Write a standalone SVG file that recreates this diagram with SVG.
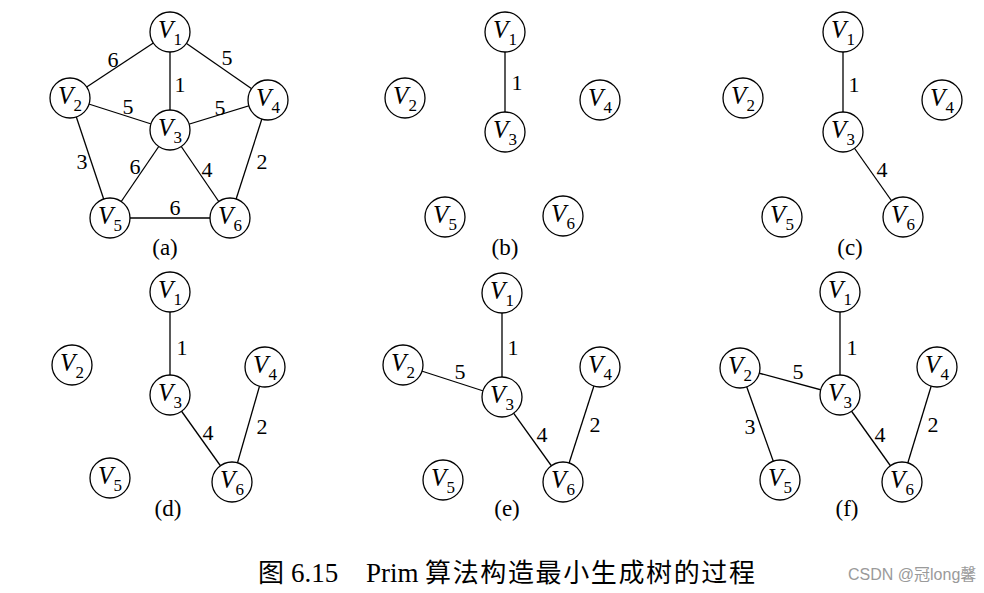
<svg xmlns="http://www.w3.org/2000/svg" width="984" height="593" viewBox="0 0 984 593">
<style>
.n circle{fill:#fff;stroke:#000;stroke-width:1.3}
.n text{font-family:"Liberation Serif","Times New Roman",serif;font-size:25px;font-style:italic;text-anchor:middle;fill:#000}
.n tspan.s{font-style:normal;font-size:17px}
#edges line{stroke:#000;stroke-width:1.3}
.w{font-family:"Liberation Serif","Times New Roman",serif;font-size:22px;text-anchor:middle;fill:#000}
.cap{font-family:"Liberation Serif","Times New Roman",serif;font-size:23px;text-anchor:middle;fill:#000}
.title{font-family:"Liberation Serif","Noto Sans CJK SC",serif;font-size:27px;fill:#000}
.title2{font-family:"Noto Sans CJK SC",serif;font-size:26px;fill:#000}
.wm{font-family:"Liberation Sans","Noto Sans CJK SC",sans-serif;font-size:16px;fill:#9a9a9a}
</style>
<rect width="984" height="593" fill="#fff"/>
<g id="edges">
<!-- (a) -->
<line x1="170" y1="32" x2="70" y2="98"/>
<line x1="170" y1="32" x2="268" y2="100"/>
<line x1="170" y1="32" x2="170" y2="130"/>
<line x1="70" y1="98" x2="170" y2="130"/>
<line x1="268" y1="100" x2="170" y2="130"/>
<line x1="70" y1="98" x2="110" y2="218"/>
<line x1="170" y1="130" x2="110" y2="218"/>
<line x1="170" y1="130" x2="230" y2="218"/>
<line x1="268" y1="100" x2="230" y2="218"/>
<line x1="110" y1="218" x2="230" y2="218"/>
<!-- (b) -->
<line x1="505" y1="32" x2="505" y2="132"/>
<!-- (c) -->
<line x1="843" y1="32" x2="843" y2="132"/>
<line x1="843" y1="132" x2="903" y2="217"/>
<!-- (d) -->
<line x1="170" y1="292" x2="170" y2="395"/>
<line x1="170" y1="395" x2="232" y2="482"/>
<line x1="265" y1="367" x2="232" y2="482"/>
<!-- (e) -->
<line x1="502" y1="293" x2="502" y2="397"/>
<line x1="403" y1="365" x2="502" y2="397"/>
<line x1="502" y1="397" x2="563" y2="482"/>
<line x1="600" y1="367" x2="563" y2="482"/>
<!-- (f) -->
<line x1="840" y1="292" x2="840" y2="395"/>
<line x1="740" y1="368" x2="840" y2="395"/>
<line x1="740" y1="368" x2="780" y2="480"/>
<line x1="840" y1="395" x2="902" y2="482"/>
<line x1="937" y1="367" x2="902" y2="482"/>
</g>
<g id="weights">
<text class="w" x="113" y="67">6</text>
<text class="w" x="227" y="65">5</text>
<text class="w" x="180" y="92">1</text>
<text class="w" x="128" y="114">5</text>
<text class="w" x="220" y="115">5</text>
<text class="w" x="82" y="169">3</text>
<text class="w" x="135" y="174">6</text>
<text class="w" x="207" y="177">4</text>
<text class="w" x="262" y="169">2</text>
<text class="w" x="175" y="215">6</text>
<text class="w" x="517" y="90">1</text>
<text class="w" x="854" y="92">1</text>
<text class="w" x="882" y="177">4</text>
<text class="w" x="182" y="355">1</text>
<text class="w" x="208" y="440">4</text>
<text class="w" x="262" y="434">2</text>
<text class="w" x="513" y="355">1</text>
<text class="w" x="460" y="379">5</text>
<text class="w" x="542" y="442">4</text>
<text class="w" x="595" y="432">2</text>
<text class="w" x="852" y="355">1</text>
<text class="w" x="798" y="379">5</text>
<text class="w" x="750" y="434">3</text>
<text class="w" x="880" y="442">4</text>
<text class="w" x="933" y="432">2</text>
</g>
<!-- panel (a) -->
<g id="a-v1" class="n"><circle cx="170" cy="32" r="20"/><text x="170" y="38">V<tspan class="s" dy="7">1</tspan></text></g>
<g id="a-v2" class="n"><circle cx="70" cy="98" r="20"/><text x="70" y="104">V<tspan class="s" dy="7">2</tspan></text></g>
<g id="a-v3" class="n"><circle cx="170" cy="130" r="20"/><text x="170" y="136">V<tspan class="s" dy="7">3</tspan></text></g>
<g id="a-v4" class="n"><circle cx="268" cy="100" r="20"/><text x="268" y="106">V<tspan class="s" dy="7">4</tspan></text></g>
<g id="a-v5" class="n"><circle cx="110" cy="218" r="20"/><text x="110" y="224">V<tspan class="s" dy="7">5</tspan></text></g>
<g id="a-v6" class="n"><circle cx="230" cy="218" r="20"/><text x="230" y="224">V<tspan class="s" dy="7">6</tspan></text></g>
<!-- panel (b) -->
<g id="b-v1" class="n"><circle cx="505" cy="32" r="20"/><text x="505" y="38">V<tspan class="s" dy="7">1</tspan></text></g>
<g id="b-v2" class="n"><circle cx="405" cy="98" r="20"/><text x="405" y="104">V<tspan class="s" dy="7">2</tspan></text></g>
<g id="b-v3" class="n"><circle cx="505" cy="132" r="20"/><text x="505" y="138">V<tspan class="s" dy="7">3</tspan></text></g>
<g id="b-v4" class="n"><circle cx="600" cy="100" r="20"/><text x="600" y="106">V<tspan class="s" dy="7">4</tspan></text></g>
<g id="b-v5" class="n"><circle cx="445" cy="217" r="20"/><text x="445" y="223">V<tspan class="s" dy="7">5</tspan></text></g>
<g id="b-v6" class="n"><circle cx="563" cy="216" r="20"/><text x="563" y="222">V<tspan class="s" dy="7">6</tspan></text></g>
<!-- panel (c) -->
<g id="c-v1" class="n"><circle cx="843" cy="32" r="20"/><text x="843" y="38">V<tspan class="s" dy="7">1</tspan></text></g>
<g id="c-v2" class="n"><circle cx="743" cy="98" r="20"/><text x="743" y="104">V<tspan class="s" dy="7">2</tspan></text></g>
<g id="c-v3" class="n"><circle cx="843" cy="132" r="20"/><text x="843" y="138">V<tspan class="s" dy="7">3</tspan></text></g>
<g id="c-v4" class="n"><circle cx="942" cy="100" r="20"/><text x="942" y="106">V<tspan class="s" dy="7">4</tspan></text></g>
<g id="c-v5" class="n"><circle cx="782" cy="217" r="20"/><text x="782" y="223">V<tspan class="s" dy="7">5</tspan></text></g>
<g id="c-v6" class="n"><circle cx="903" cy="217" r="20"/><text x="903" y="223">V<tspan class="s" dy="7">6</tspan></text></g>
<!-- panel (d) -->
<g id="d-v1" class="n"><circle cx="170" cy="292" r="20"/><text x="170" y="298">V<tspan class="s" dy="7">1</tspan></text></g>
<g id="d-v2" class="n"><circle cx="72" cy="365" r="20"/><text x="72" y="371">V<tspan class="s" dy="7">2</tspan></text></g>
<g id="d-v3" class="n"><circle cx="170" cy="395" r="20"/><text x="170" y="401">V<tspan class="s" dy="7">3</tspan></text></g>
<g id="d-v4" class="n"><circle cx="265" cy="367" r="20"/><text x="265" y="373">V<tspan class="s" dy="7">4</tspan></text></g>
<g id="d-v5" class="n"><circle cx="110" cy="478" r="20"/><text x="110" y="484">V<tspan class="s" dy="7">5</tspan></text></g>
<g id="d-v6" class="n"><circle cx="232" cy="482" r="20"/><text x="232" y="488">V<tspan class="s" dy="7">6</tspan></text></g>
<!-- panel (e) -->
<g id="e-v1" class="n"><circle cx="502" cy="293" r="20"/><text x="502" y="299">V<tspan class="s" dy="7">1</tspan></text></g>
<g id="e-v2" class="n"><circle cx="403" cy="365" r="20"/><text x="403" y="371">V<tspan class="s" dy="7">2</tspan></text></g>
<g id="e-v3" class="n"><circle cx="502" cy="397" r="20"/><text x="502" y="403">V<tspan class="s" dy="7">3</tspan></text></g>
<g id="e-v4" class="n"><circle cx="600" cy="367" r="20"/><text x="600" y="373">V<tspan class="s" dy="7">4</tspan></text></g>
<g id="e-v5" class="n"><circle cx="443" cy="480" r="20"/><text x="443" y="486">V<tspan class="s" dy="7">5</tspan></text></g>
<g id="e-v6" class="n"><circle cx="563" cy="482" r="20"/><text x="563" y="488">V<tspan class="s" dy="7">6</tspan></text></g>
<!-- panel (f) -->
<g id="f-v1" class="n"><circle cx="840" cy="292" r="20"/><text x="840" y="298">V<tspan class="s" dy="7">1</tspan></text></g>
<g id="f-v2" class="n"><circle cx="740" cy="368" r="20"/><text x="740" y="374">V<tspan class="s" dy="7">2</tspan></text></g>
<g id="f-v3" class="n"><circle cx="840" cy="395" r="20"/><text x="840" y="401">V<tspan class="s" dy="7">3</tspan></text></g>
<g id="f-v4" class="n"><circle cx="937" cy="367" r="20"/><text x="937" y="373">V<tspan class="s" dy="7">4</tspan></text></g>
<g id="f-v5" class="n"><circle cx="780" cy="480" r="20"/><text x="780" y="486">V<tspan class="s" dy="7">5</tspan></text></g>
<g id="f-v6" class="n"><circle cx="902" cy="482" r="20"/><text x="902" y="488">V<tspan class="s" dy="7">6</tspan></text></g>
<g id="captions">
<text class="cap" x="165" y="255">(a)</text>
<text class="cap" x="505" y="255">(b)</text>
<text class="cap" x="850" y="255">(c)</text>
<text class="cap" x="168" y="516">(d)</text>
<text class="cap" x="507" y="516">(e)</text>
<text class="cap" x="847" y="516">(f)</text>
</g>
<g id="title">
<text class="title2" x="258" y="582">图</text>
<text class="title" x="291" y="582">6.15</text>
<text class="title" x="366" y="582">Prim</text>
<text class="title2" x="425" y="582" textLength="330" lengthAdjust="spacing">算法构造最小生成树的过程</text>
<text class="wm" x="848" y="580">CSDN @冠long馨</text>
</g>
</svg>
